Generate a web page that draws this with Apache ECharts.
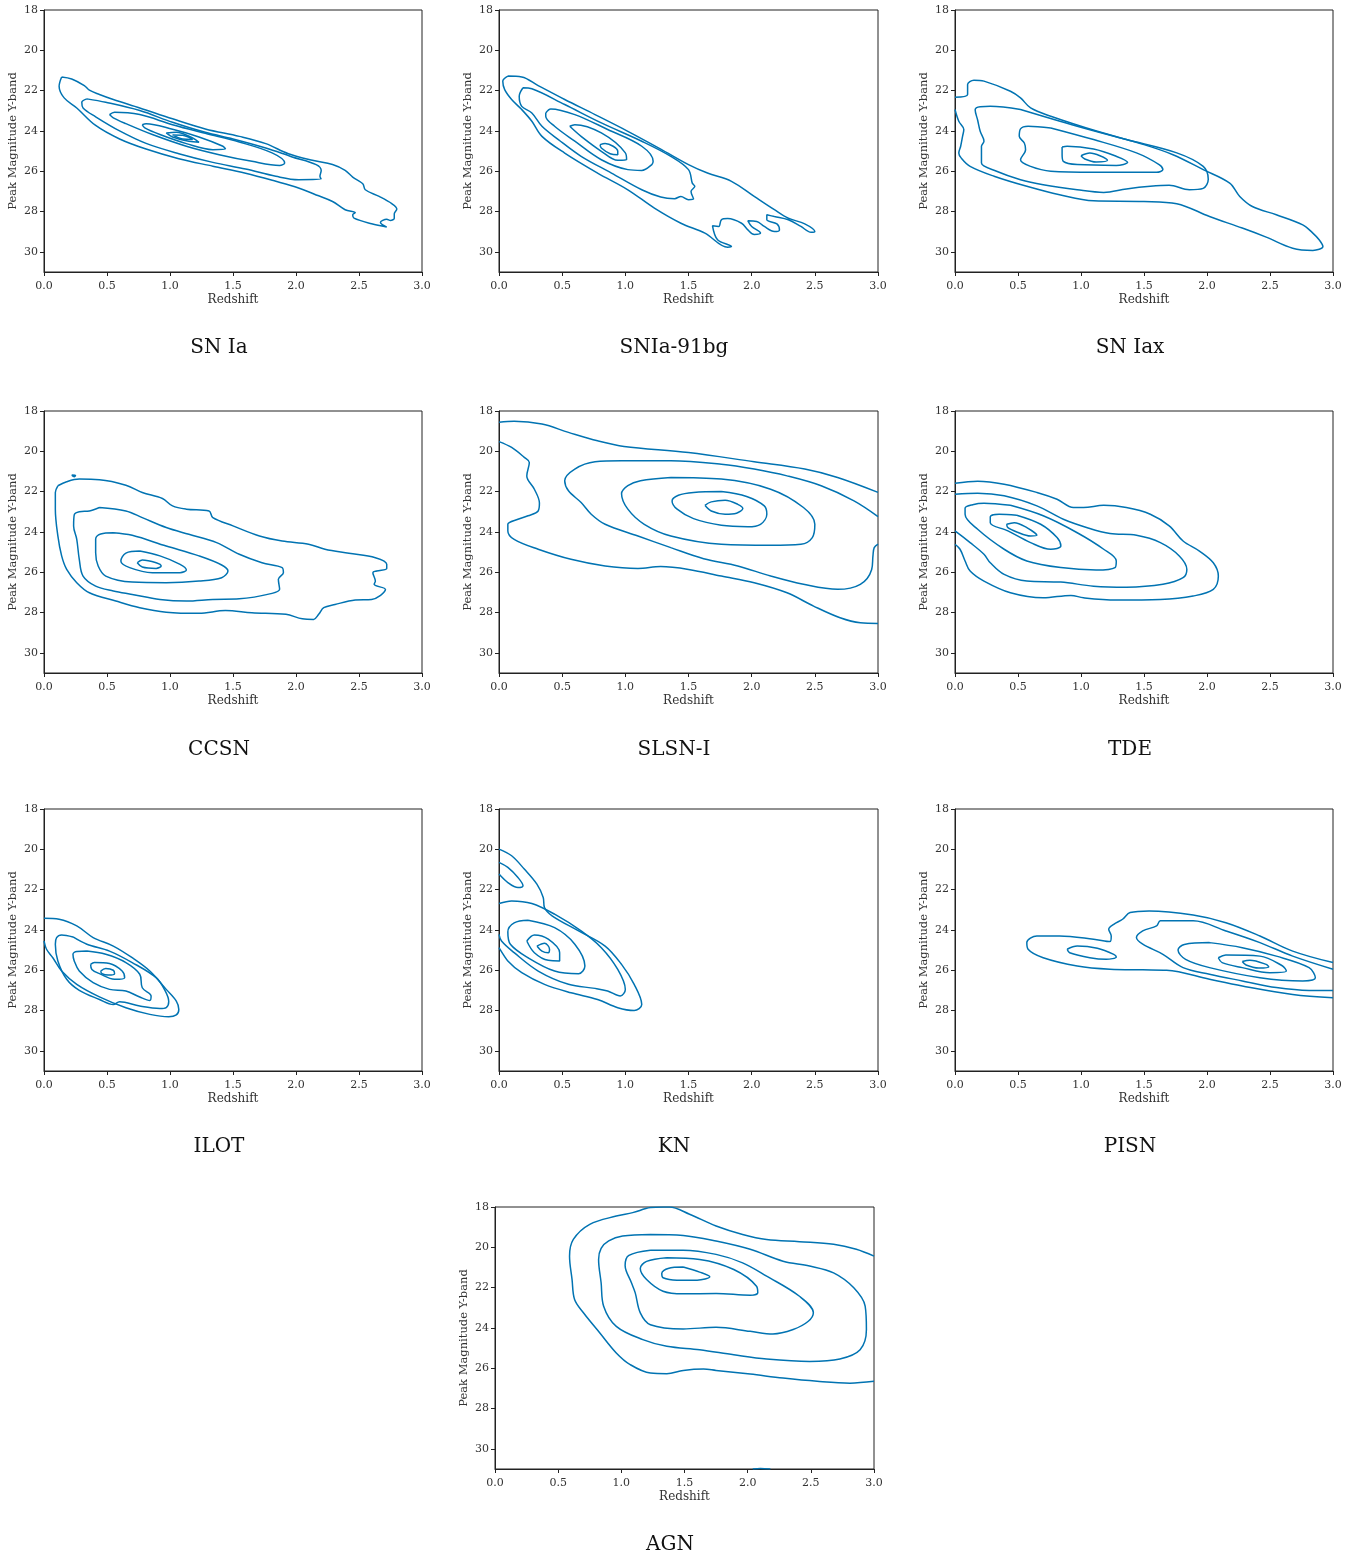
<!DOCTYPE html>
<html>
<head>
<meta charset="utf-8">
<script src="https://cdn.jsdelivr.net/npm/echarts@6/dist/echarts.min.js"></script>
<style>
  html, body { margin: 0; padding: 0; background: #fff; }
  #chart { width: 1356px; height: 1556px; }
</style>
</head>
<body>
<div id="chart"></div>
<script>
// axis ticks
const xTicks = [0, 0.5, 1.0, 1.5, 2.0, 2.5, 3.0];
const yTicks = [18, 20, 22, 24, 26, 28, 30];
const panelNames = ['SN Ia', 'SNIa-91bg', 'SN Iax', 'CCSN', 'SLSN-I', 'TDE', 'ILOT', 'KN', 'PISN', 'AGN'];

// contour lines, [redshift, peak magnitude]
// SN Ia
const snIa1 = [[0.14,21.32],[0.22,21.42],[0.32,21.75],[0.36,21.98],[0.44,22.19],[0.55,22.44],[0.76,22.86],[1.02,23.40],[1.28,23.90],[1.55,24.27],[1.76,24.63],[1.94,25.13],[2.13,25.46],[2.29,25.67],[2.39,25.96],[2.45,26.29],[2.53,26.62],[2.55,26.92],[2.66,27.25],[2.76,27.61],[2.80,27.88],[2.78,28.11],[2.78,28.33],[2.75,28.44],[2.72,28.38],[2.67,28.54],[2.72,28.77],[2.60,28.61],[2.46,28.33],[2.45,28.16],[2.47,28.05],[2.39,27.91],[2.29,27.50],[2.18,27.22],[2.02,26.83],[1.84,26.50],[1.60,26.10],[1.34,25.75],[1.07,25.38],[0.81,24.90],[0.60,24.40],[0.41,23.73],[0.26,22.86],[0.16,22.36],[0.12,21.78],[0.14,21.32]];
const snIa2 = [[0.34,22.41],[0.49,22.58],[0.76,22.99],[1.02,23.57],[1.28,24.07],[1.50,24.40],[1.76,24.85],[1.97,25.29],[2.16,25.67],[2.20,25.96],[2.19,26.25],[2.20,26.39],[2.02,26.42],[1.84,26.25],[1.60,25.89],[1.34,25.56],[1.07,25.13],[0.81,24.62],[0.60,24.00],[0.41,23.30],[0.31,22.86],[0.30,22.58],[0.34,22.41]];
const snIa3 = [[0.52,23.19],[0.56,23.07],[0.76,23.19],[1.02,23.69],[1.28,24.12],[1.55,24.55],[1.81,25.09],[1.91,25.59],[1.87,25.71],[1.65,25.51],[1.39,25.18],[1.13,24.76],[0.86,24.18],[0.65,23.64],[0.55,23.35],[0.52,23.19]];
const snIa4 = [[0.78,23.69],[0.81,23.64],[1.02,23.92],[1.23,24.30],[1.42,24.76],[1.44,24.90],[1.34,24.93],[1.13,24.63],[0.92,24.18],[0.80,23.85],[0.78,23.69]];
const snIa5 = [[0.97,24.10],[1.05,24.07],[1.18,24.35],[1.23,24.56],[1.15,24.51],[1.02,24.30],[0.97,24.10]];
const snIa6 = [[1.02,24.20],[1.10,24.22],[1.18,24.42],[1.10,24.40],[1.02,24.20]];

// SNIa-91bg
const bg1 = [[0.07,21.28],[0.18,21.32],[0.31,21.75],[0.52,22.44],[0.76,23.19],[1.02,24.02],[1.28,24.90],[1.50,25.67],[1.65,26.09],[1.84,26.50],[2.02,27.25],[2.18,27.91],[2.29,28.33],[2.42,28.61],[2.50,28.99],[2.47,29.03],[2.39,28.74],[2.29,28.41],[2.18,28.25],[2.12,28.16],[2.12,28.41],[2.20,28.61],[2.22,28.91],[2.18,28.99],[2.10,28.74],[2.04,28.49],[1.97,28.46],[2.00,28.74],[2.07,29.07],[2.02,29.14],[1.97,28.91],[1.92,28.58],[1.81,28.35],[1.76,28.41],[1.74,28.74],[1.69,28.71],[1.73,29.40],[1.84,29.74],[1.81,29.77],[1.63,29.07],[1.44,28.58],[1.23,27.83],[1.02,26.92],[0.78,26.09],[0.52,25.10],[0.34,24.27],[0.26,23.52],[0.18,22.94],[0.10,22.44],[0.045,21.95],[0.03,21.53],[0.07,21.28]];
const bg2 = [[0.19,21.86],[0.26,21.91],[0.52,22.69],[0.81,23.60],[1.13,24.51],[1.36,25.26],[1.50,25.92],[1.53,26.59],[1.55,26.75],[1.52,27.00],[1.54,27.38],[1.50,27.41],[1.44,27.25],[1.39,27.36],[1.28,27.28],[1.13,26.92],[0.89,26.09],[0.65,25.26],[0.47,24.43],[0.34,23.77],[0.26,23.11],[0.18,22.78],[0.16,22.28],[0.19,21.86]];
const bg3 = [[0.37,23.11],[0.41,22.91],[0.60,23.19],[0.86,23.93],[1.13,24.76],[1.22,25.51],[1.21,25.67],[1.13,25.96],[1.02,25.92],[0.81,25.43],[0.60,24.51],[0.44,23.77],[0.37,23.27],[0.37,23.11]];
const bg4 = [[0.56,23.77],[0.60,23.69],[0.81,24.10],[1.00,25.09],[1.01,25.43],[0.94,25.46],[0.81,25.01],[0.65,24.27],[0.56,23.77]];
const bg5 = [[0.80,24.68],[0.84,24.63],[0.94,25.01],[0.94,25.18],[0.88,25.13],[0.81,24.85],[0.80,24.68]];

// SN Iax
const iax1 = [[0,22.33],[0.10,22.19],[0.10,21.70],[0.15,21.48],[0.23,21.53],[0.44,22.03],[0.52,22.36],[0.60,22.86],[0.76,23.27],[1.13,24.02],[1.50,24.68],[1.73,25.18],[1.97,25.92],[2.18,26.59],[2.26,27.25],[2.36,27.75],[2.55,28.16],[2.76,28.66],[2.84,29.07],[2.89,29.40],[2.92,29.74],[2.84,29.93],[2.68,29.82],[2.47,29.27],[2.28,28.82],[2.02,28.25],[1.76,27.61],[1.50,27.50],[1.10,27.47],[0.83,27.17],[0.57,26.75],[0.31,26.25],[0.12,25.76],[0.05,25.35],[0.03,25.09],[0.045,24.76],[0.06,24.27],[0.07,23.93],[0.03,23.52],[0,22.94]];
const iax2 = [[0.52,22.94],[0.97,23.77],[1.36,24.43],[1.76,25.09],[1.97,25.76],[2.01,26.40],[1.97,26.85],[1.86,26.92],[1.70,26.70],[1.55,26.75],[1.36,26.88],[1.18,27.05],[0.97,26.92],[0.70,26.67],[0.52,26.42],[0.33,26.00],[0.21,25.59],[0.21,25.26],[0.21,24.76],[0.23,24.51],[0.20,24.02],[0.18,23.47],[0.16,22.95],[0.20,22.80],[0.28,22.78],[0.52,22.94]];
const iax3 = [[0.76,23.85],[1.10,24.43],[1.44,25.09],[1.62,25.67],[1.65,25.92],[1.60,26.05],[1.36,26.05],[1.10,26.05],[0.76,26.00],[0.60,25.76],[0.52,25.43],[0.56,24.93],[0.55,24.60],[0.51,24.27],[0.52,23.90],[0.58,23.77],[0.76,23.85]];
const iax4 = [[0.85,24.80],[0.89,24.76],[1.10,24.90],[1.28,25.26],[1.37,25.56],[1.28,25.71],[0.97,25.67],[0.86,25.51],[0.85,25.18],[0.85,24.80]];
const iax5 = [[1.00,25.23],[1.07,25.10],[1.15,25.23],[1.21,25.46],[1.12,25.54],[1.03,25.39],[1.00,25.23]];

// CCSN
const cc0 = [[0.22,21.18],[0.25,21.20],[0.24,21.26],[0.22,21.18]];
const cc1 = [[0.11,21.71],[0.18,21.51],[0.28,21.38],[0.44,21.41],[0.65,21.68],[0.78,22.04],[0.94,22.34],[1.02,22.71],[1.13,22.87],[1.31,22.96],[1.34,23.29],[1.50,23.70],[1.71,24.20],[1.89,24.45],[2.10,24.61],[2.23,24.86],[2.42,25.06],[2.63,25.28],[2.72,25.61],[2.72,25.82],[2.64,25.94],[2.61,26.02],[2.63,26.44],[2.62,26.60],[2.71,26.85],[2.60,27.35],[2.47,27.38],[2.31,27.60],[2.22,27.76],[2.18,28.09],[2.14,28.34],[2.05,28.31],[1.92,28.09],[1.65,28.01],[1.44,27.90],[1.23,28.04],[0.97,27.98],[0.76,27.76],[0.57,27.43],[0.36,27.02],[0.26,26.52],[0.18,25.86],[0.14,25.19],[0.11,24.20],[0.09,22.87],[0.09,22.04],[0.11,21.71]];
const cc2 = [[0.44,22.79],[0.65,22.96],[0.78,23.29],[0.97,23.78],[1.15,24.12],[1.37,24.53],[1.55,25.11],[1.73,25.53],[1.89,25.77],[1.90,26.02],[1.86,26.35],[1.87,26.85],[1.81,27.05],[1.55,27.32],[1.34,27.35],[1.13,27.43],[0.92,27.35],[0.70,27.10],[0.55,26.93],[0.41,26.69],[0.31,26.19],[0.28,25.36],[0.26,24.37],[0.235,23.70],[0.24,23.15],[0.28,23.00],[0.36,22.96],[0.44,22.79]];
const cc3 = [[0.55,24.04],[0.70,24.17],[0.97,24.70],[1.23,25.19],[1.41,25.64],[1.46,25.94],[1.41,26.27],[1.23,26.44],[0.97,26.52],[0.70,26.49],[0.49,26.19],[0.43,25.69],[0.41,25.03],[0.41,24.35],[0.45,24.10],[0.55,24.04]];
const cc4 = [[0.76,24.95],[0.92,25.19],[1.08,25.61],[1.13,25.89],[1.08,26.02],[0.86,26.02],[0.68,25.77],[0.61,25.44],[0.65,25.05],[0.76,24.95]];
const cc5 = [[0.74,25.53],[0.78,25.39],[0.89,25.53],[0.93,25.69],[0.89,25.81],[0.78,25.74],[0.74,25.53]];

// SLSN-I
const sl1 = [[0,18.56],[0.12,18.51],[0.34,18.65],[0.55,19.06],[0.78,19.48],[0.99,19.76],[1.50,20.06],[2.02,20.52],[2.42,20.88],[2.68,21.30],[3.0,22.04]];
const sl2 = [[0,19.52],[0.10,19.81],[0.20,20.30],[0.24,20.55],[0.22,21.22],[0.28,21.88],[0.32,22.57],[0.31,22.96],[0.23,23.20],[0.15,23.37],[0.07,23.62],[0.07,23.95],[0.12,24.37],[0.31,24.86],[0.57,25.36],[0.84,25.69],[1.10,25.81],[1.28,25.72],[1.50,25.86],[1.76,26.19],[2.02,26.52],[2.28,27.02],[2.49,27.68],[2.70,28.26],[2.86,28.51],[3.0,28.54]];
const sl3 = [[3.0,23.24],[2.81,22.46],[2.55,21.71],[2.28,21.22],[2.02,20.88],[1.76,20.64],[1.36,20.47],[0.97,20.47],[0.76,20.52],[0.60,20.88],[0.52,21.46],[0.55,21.96],[0.65,22.54],[0.73,23.12],[0.84,23.62],[1.10,24.20],[1.36,24.78],[1.62,25.33],[1.89,25.69],[2.15,26.19],[2.41,26.60],[2.68,26.85],[2.86,26.60],[2.95,25.86],[2.96,25.19],[2.97,24.78],[3.0,24.61]];
const sl4 = [[1.36,21.30],[1.76,21.38],[2.15,21.88],[2.41,22.79],[2.50,23.62],[2.48,24.28],[2.39,24.61],[2.15,24.66],[1.76,24.61],[1.36,24.20],[1.15,23.62],[1.02,22.87],[0.97,22.10],[1.02,21.70],[1.12,21.46],[1.36,21.30]];
const sl5 = [[1.76,22.00],[1.96,22.24],[2.10,22.71],[2.12,23.12],[2.07,23.62],[1.97,23.74],[1.76,23.67],[1.54,23.34],[1.41,22.87],[1.37,22.46],[1.42,22.18],[1.54,22.04],[1.76,22.00]];
const sl6 = [[1.63,22.68],[1.68,22.51],[1.79,22.43],[1.89,22.63],[1.93,22.84],[1.88,23.07],[1.79,23.12],[1.68,22.96],[1.63,22.68]];

// TDE
const tde1 = [[0,21.58],[0.18,21.48],[0.39,21.63],[0.65,22.04],[0.81,22.38],[0.94,22.79],[1.02,22.79],[1.18,22.68],[1.36,22.79],[1.55,23.12],[1.70,23.70],[1.81,24.45],[1.94,24.95],[2.05,25.53],[2.09,26.19],[2.05,26.85],[1.89,27.18],[1.63,27.35],[1.28,27.38],[1.02,27.27],[0.92,27.15],[0.70,27.27],[0.44,27.02],[0.23,26.44],[0.12,25.94],[0.08,25.44],[0.04,24.86],[0,24.61]];
const tde2 = [[0,22.13],[0.18,22.08],[0.39,22.21],[0.65,22.71],[0.86,23.37],[1.05,23.79],[1.23,24.08],[1.44,24.17],[1.63,24.53],[1.78,25.19],[1.84,25.86],[1.81,26.27],[1.65,26.60],[1.36,26.74],[1.10,26.69],[0.84,26.49],[0.57,26.44],[0.39,26.11],[0.28,25.53],[0.23,25.11],[0.12,24.53],[0,23.95]];
const tde3 = [[0.44,22.68],[0.70,23.20],[0.97,24.04],[1.18,24.86],[1.28,25.44],[1.27,25.77],[1.12,25.89],[0.84,25.77],[0.57,25.44],[0.39,24.86],[0.18,23.87],[0.08,23.12],[0.08,22.82],[0.14,22.65],[0.23,22.58],[0.44,22.68]];
const tde4 = [[0.49,23.17],[0.68,23.62],[0.81,24.28],[0.84,24.70],[0.76,24.86],[0.60,24.53],[0.42,23.95],[0.28,23.54],[0.28,23.25],[0.35,23.12],[0.49,23.17]];
const tde5 = [[0.41,23.62],[0.47,23.54],[0.57,23.79],[0.65,24.17],[0.60,24.20],[0.49,24.00],[0.42,23.79],[0.41,23.62]];

// ILOT
const il1 = [[0,23.42],[0.12,23.47],[0.26,23.80],[0.39,24.38],[0.55,24.80],[0.70,25.38],[0.84,26.04],[0.97,26.95],[1.05,27.53],[1.07,27.95],[1.05,28.22],[0.99,28.31],[0.84,28.19],[0.65,27.86],[0.44,27.32],[0.26,26.70],[0.14,26.04],[0.07,25.38],[0.02,24.96],[0,24.55]];
const il2 = [[0.23,24.35],[0.34,24.71],[0.52,25.05],[0.70,25.62],[0.89,26.37],[0.96,27.00],[0.99,27.55],[0.97,27.85],[0.92,27.90],[0.76,27.78],[0.60,27.56],[0.55,27.70],[0.44,27.45],[0.28,27.00],[0.18,26.45],[0.11,25.54],[0.09,24.71],[0.10,24.38],[0.14,24.25],[0.23,24.35]];
const il3 = [[0.34,25.05],[0.49,25.21],[0.65,25.62],[0.76,26.20],[0.78,26.87],[0.85,27.28],[0.84,27.50],[0.76,27.33],[0.65,27.03],[0.52,26.95],[0.39,26.62],[0.28,26.04],[0.24,25.54],[0.23,25.21],[0.26,25.07],[0.34,25.05]];
const il4 = [[0.37,25.71],[0.40,25.62],[0.52,25.67],[0.62,26.04],[0.64,26.37],[0.56,26.45],[0.44,26.17],[0.38,25.96],[0.37,25.71]];
const il5 = [[0.45,26.04],[0.49,25.92],[0.55,26.00],[0.56,26.17],[0.51,26.24],[0.46,26.17],[0.45,26.04]];

// KN
const kn1 = [[0,19.99],[0.10,20.32],[0.20,20.98],[0.30,21.73],[0.35,22.39],[0.36,22.89],[0.42,23.30],[0.63,24.05],[0.84,24.80],[0.97,25.71],[1.07,26.70],[1.13,27.70],[1.07,28.00],[0.94,27.86],[0.78,27.45],[0.57,27.12],[0.36,26.70],[0.18,26.12],[0.07,25.54],[0,24.88]];
const kn2 = [[0,20.65],[0.07,20.90],[0.15,21.40],[0.19,21.81],[0.15,21.90],[0.07,21.65],[0,21.23]];
const kn3 = [[0,22.69],[0.10,22.56],[0.26,22.69],[0.44,23.22],[0.65,24.05],[0.81,24.88],[0.94,25.96],[1.00,26.95],[0.96,27.28],[0.86,27.03],[0.76,26.90],[0.55,26.70],[0.31,26.04],[0.12,25.13],[0.02,24.55],[0,24.22]];
const kn4 = [[0.23,23.52],[0.44,23.89],[0.60,24.71],[0.68,25.79],[0.63,26.17],[0.44,26.04],[0.23,25.38],[0.09,24.71],[0.07,24.10],[0.12,23.65],[0.23,23.52]];
const kn5 = [[0.22,24.55],[0.28,24.25],[0.39,24.46],[0.48,25.13],[0.48,25.54],[0.39,25.51],[0.28,25.13],[0.22,24.55]];
const kn6 = [[0.30,24.80],[0.36,24.66],[0.40,24.96],[0.39,25.13],[0.34,25.05],[0.30,24.80]];

// PISN
const pi1 = [[3.0,27.37],[2.68,27.20],[2.28,26.78],[2.02,26.45],[1.68,26.00],[1.49,25.98],[1.23,25.95],[0.97,25.79],[0.70,25.38],[0.58,24.96],[0.57,24.63],[0.65,24.30],[0.83,24.30],[1.10,24.46],[1.23,24.58],[1.24,24.30],[1.22,23.97],[1.26,23.72],[1.33,23.47],[1.39,23.14],[1.54,23.06],[1.89,23.26],[2.15,23.64],[2.42,24.30],[2.68,25.05],[3.0,25.62]];
const pi2 = [[0.89,24.96],[0.97,24.80],[1.13,24.91],[1.26,25.21],[1.28,25.34],[1.20,25.46],[1.07,25.38],[0.91,25.13],[0.89,24.96]];
const pi3 = [[3.0,25.95],[2.68,25.30],[2.42,24.63],[2.15,24.05],[1.89,23.55],[1.63,23.55],[1.60,23.80],[1.49,24.05],[1.44,24.38],[1.49,24.71],[1.65,25.21],[1.81,25.87],[2.02,26.20],[2.28,26.53],[2.55,26.86],[2.81,27.00],[3.0,27.00]];
const pi4 = [[2.02,24.63],[2.28,24.88],[2.55,25.30],[2.81,25.87],[2.86,26.37],[2.76,26.53],[2.42,26.37],[2.02,25.87],[1.83,25.46],[1.77,25.00],[1.82,24.72],[2.02,24.63]];
const pi5 = [[2.09,25.38],[2.15,25.25],[2.42,25.30],[2.60,25.79],[2.63,26.04],[2.50,26.12],[2.28,25.87],[2.12,25.62],[2.09,25.38]];
const pi6 = [[2.28,25.57],[2.34,25.50],[2.47,25.71],[2.49,25.84],[2.41,25.89],[2.31,25.74],[2.28,25.57]];

// AGN
const agn1 = [[3.0,26.65],[2.81,26.74],[2.55,26.65],[2.28,26.49],[2.02,26.29],[1.75,26.11],[1.65,26.04],[1.49,26.11],[1.36,26.27],[1.23,26.24],[1.07,25.82],[0.96,25.24],[0.83,24.25],[0.70,23.25],[0.63,22.59],[0.61,21.60],[0.59,20.44],[0.62,19.61],[0.75,18.86],[0.96,18.45],[1.09,18.28],[1.23,18.03],[1.33,18.0],[1.38,18.0],[1.54,18.36],[1.75,18.94],[1.96,19.36],[2.15,19.61],[2.41,19.72],[2.68,19.85],[2.86,20.10],[3.0,20.44]];
const agn2 = [[1.23,19.36],[1.49,19.41],[1.75,19.69],[2.02,20.10],[2.28,20.69],[2.49,20.93],[2.68,21.27],[2.84,22.01],[2.93,22.92],[2.94,24.08],[2.89,25.08],[2.73,25.54],[2.49,25.66],[2.15,25.54],[1.89,25.33],[1.62,25.08],[1.36,24.91],[1.17,24.58],[0.96,23.92],[0.86,22.92],[0.84,21.76],[0.82,20.60],[0.84,20.05],[0.90,19.68],[1.01,19.44],[1.23,19.36]];
const agn3 = [[1.23,20.14],[1.49,20.14],[1.75,20.35],[1.96,20.77],[2.15,21.43],[2.41,22.43],[2.52,23.25],[2.48,23.67],[2.36,24.08],[2.20,24.30],[2.02,24.17],[1.75,23.97],[1.49,24.05],[1.23,23.84],[1.15,23.25],[1.11,22.26],[1.08,21.76],[1.03,20.90],[1.06,20.40],[1.23,20.14]];
const agn4 = [[1.36,20.52],[1.62,20.60],[1.89,21.10],[2.07,21.93],[2.08,22.26],[2.02,22.38],[1.75,22.29],[1.49,22.31],[1.33,22.18],[1.20,21.60],[1.15,21.05],[1.20,20.70],[1.36,20.52]];
const agn5 = [[1.49,20.98],[1.62,21.23],[1.70,21.46],[1.60,21.63],[1.44,21.63],[1.33,21.51],[1.32,21.30],[1.37,21.05],[1.49,20.98]];
const agn6 = [[2.04,31.0],[2.10,30.97],[2.18,31.0]];

const panelLines = [
  [snIa1, snIa2, snIa3, snIa4, snIa5, snIa6],
  [bg1, bg2, bg3, bg4, bg5],
  [iax1, iax2, iax3, iax4, iax5],
  [cc0, cc1, cc2, cc3, cc4, cc5],
  [sl1, sl2, sl3, sl4, sl5, sl6],
  [tde1, tde2, tde3, tde4, tde5],
  [il1, il2, il3, il4, il5],
  [kn1, kn2, kn3, kn4, kn5, kn6],
  [pi1, pi2, pi3, pi4, pi5, pi6],
  [agn1, agn2, agn3, agn4, agn5, agn6]
];

// where each subplot sits on the page
const layout = [
  {l: 44,  t: 10,   w: 378, tx: 219,  ty: 338},
  {l: 499, t: 10,   w: 379, tx: 674,  ty: 338},
  {l: 955, t: 10,   w: 378, tx: 1130, ty: 338},
  {l: 44,  t: 411,  w: 378, tx: 219,  ty: 740},
  {l: 499, t: 411,  w: 379, tx: 674,  ty: 740},
  {l: 955, t: 411,  w: 378, tx: 1130, ty: 740},
  {l: 44,  t: 809,  w: 378, tx: 219,  ty: 1137},
  {l: 499, t: 809,  w: 379, tx: 674,  ty: 1137},
  {l: 955, t: 809,  w: 378, tx: 1130, ty: 1137},
  {l: 495, t: 1207, w: 379, tx: 670,  ty: 1535}
];

const FONT = 'DejaVu Serif';
const LINE = '#0173b2';
const AXIS = '#222';
const TEXT = '#333';

const chart = echarts.init(document.getElementById('chart'));

const grids = layout.map(p => ({
  left: p.l, top: p.t, width: p.w, height: 262,
  show: true, borderColor: AXIS, borderWidth: 1, containLabel: false
}));

const xAxes = layout.map((p, i) => ({
  type: 'value', gridIndex: i, min: 0, max: 3, interval: 0.5,
  name: 'Redshift', nameLocation: 'middle', nameGap: 22,
  nameTextStyle: {fontFamily: FONT, fontSize: 12, color: TEXT},
  axisLine: {show: true, lineStyle: {color: AXIS, width: 1}},
  axisTick: {show: true, length: 4, lineStyle: {color: AXIS}, customValues: xTicks},
  axisLabel: {fontFamily: FONT, fontSize: 11, color: TEXT, margin: 9,
    customValues: xTicks, formatter: v => Number(v).toFixed(1)},
  splitLine: {show: false}
}));

const yAxes = layout.map((p, i) => ({
  type: 'value', gridIndex: i, min: 18, max: 31, interval: 2, inverse: true,
  name: 'Peak Magnitude Y-band', nameLocation: 'middle', nameGap: 25,
  nameTextStyle: {fontFamily: FONT, fontSize: 11.5, color: TEXT},
  axisLine: {show: true, lineStyle: {color: AXIS, width: 1}},
  axisTick: {show: true, length: 4, lineStyle: {color: AXIS}, customValues: yTicks},
  axisLabel: {fontFamily: FONT, fontSize: 11, color: TEXT, margin: 6, customValues: yTicks},
  splitLine: {show: false}
}));

const series = [];
panelLines.forEach((lines, i) => {
  lines.forEach(pts => {
    series.push({
      type: 'line', xAxisIndex: i, yAxisIndex: i, data: pts,
      smooth: 0.35, showSymbol: false, symbol: 'none', silent: true, clip: true,
      lineStyle: {color: LINE, width: 1.5}
    });
  });
});

const titles = layout.map((p, i) => ({
  text: panelNames[i], left: p.tx, top: p.ty, textAlign: 'center', padding: 0,
  textStyle: {fontFamily: FONT, fontSize: 20, fontWeight: 'normal', color: '#111'}
}));

chart.setOption({
  animation: false,
  backgroundColor: '#fff',
  title: titles,
  grid: grids,
  xAxis: xAxes,
  yAxis: yAxes,
  series: series
});
</script>
</body>
</html>
